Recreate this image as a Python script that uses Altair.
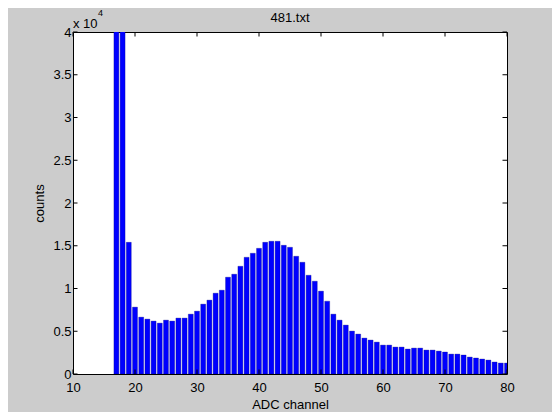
import altair as alt
import pandas as pd

# ---- data ----
channels = list(range(17, 81))
counts = [62000, 48000, 15400,
          7820, 6650, 6420, 6190, 5950, 6300, 6190, 6540, 6540, 7000, 7350, 8170, 8640, 9450, 9800,
          11320, 11670, 12600, 13650, 14120, 14700, 15400, 15520, 15520, 15050, 14820, 13770, 13070,
          11550, 10850, 9690,
          8520, 7000, 6300, 5720, 5020, 4670, 4200, 3970, 3730, 3380, 3380, 3150, 3150, 2920, 3030,
          3030, 2800, 2800, 2680, 2570, 2330, 2330, 2220, 1980, 1870, 1750, 1630, 1400, 1280, 1280]
x_ticks = [10, 20, 30, 40, 50, 60, 70, 80]
y_ticks = [0, 5000, 10000, 15000, 20000, 25000, 30000, 35000, 40000]
title_text = "481.txt"
x_label = "ADC channel"
y_label = "counts"
exp_base = "x 10"
exp_power = "4"

W, H = 434, 342
TL = 4.5
FONT = "Liberation Sans"

df = pd.DataFrame({"channel": channels, "counts": counts})
xt = pd.DataFrame({"channel": x_ticks})
yt = pd.DataFrame({"counts": y_ticks})

xscale = alt.Scale(domain=[x_ticks[0], x_ticks[-1]], nice=False, zero=False)
yscale = alt.Scale(domain=[y_ticks[0], y_ticks[-1]], nice=False)

xaxis = alt.Axis(values=x_ticks, title=x_label, tickSize=0, domain=False, grid=False,
                 labelFlush=False, labelOverlap=False,
                 labelPadding=7, labelFont=FONT, labelFontSize=13, labelColor="black",
                 titleFont=FONT, titleFontSize=13, titleFontWeight="normal",
                 titleColor="black", titleBaseline="alphabetic", titleY=34)
yaxis = alt.Axis(values=y_ticks, title=y_label, tickSize=0, domain=False, grid=False,
                 labelFlush=False, labelOverlap=False,
                 labelPadding=2, labelFont=FONT, labelFontSize=13, labelColor="black",
                 labelExpr="'' + (datum.value / 10000)",
                 titleFont=FONT, titleFontSize=13, titleFontWeight="normal",
                 titleColor="black", titleAngle=-90, titleBaseline="alphabetic",
                 titleX=-30, titleAlign="center")

bars = alt.Chart(df).transform_calculate(
    lo="datum.channel - 0.4", hi="datum.channel + 0.4"
).mark_bar(color="#0000ff", clip=True, stroke="#00007a", strokeWidth=0.3).encode(
    x=alt.X("lo:Q", scale=xscale, axis=xaxis, title=x_label),
    x2="hi:Q",
    y=alt.Y("counts:Q", scale=yscale, axis=yaxis, title=y_label),
    y2=alt.datum(0),
)

tick_style = dict(color="black", strokeWidth=1)
bx = alt.Chart(xt).mark_rule(**tick_style).encode(
    x=alt.X("channel:Q", scale=xscale, axis=xaxis, title=x_label), y=alt.value(H), y2=alt.value(H - TL))
tx = alt.Chart(xt).mark_rule(**tick_style).encode(
    x=alt.X("channel:Q", scale=xscale, axis=xaxis, title=x_label), y=alt.value(0), y2=alt.value(TL))
ly = alt.Chart(yt).mark_rule(**tick_style).encode(
    y=alt.Y("counts:Q", scale=yscale, axis=yaxis, title=y_label), x=alt.value(0), x2=alt.value(TL))
ry = alt.Chart(yt).mark_rule(**tick_style).encode(
    y=alt.Y("counts:Q", scale=yscale, axis=yaxis, title=y_label), x=alt.value(W), x2=alt.value(W - TL))

txt = dict(font=FONT, color="black", baseline="alphabetic")
title_mark = alt.Chart(pd.DataFrame({"t": [title_text]})).mark_text(
    fontSize=13, align="center", **txt
).encode(text="t:N", x=alt.value(W / 2), y=alt.value(-10))
base_txt = alt.Chart(pd.DataFrame({"t": [exp_base]})).mark_text(
    fontSize=13, align="left", **txt
).encode(text="t:N", x=alt.value(0), y=alt.value(-4.5))
pow_txt = alt.Chart(pd.DataFrame({"t": [exp_power]})).mark_text(
    fontSize=9, align="left", **txt
).encode(text="t:N", x=alt.value(25), y=alt.value(-16.5))

chart = alt.layer(bars, bx, tx, ly, ry, title_mark, base_txt, pow_txt).properties(
    width=W, height=H,
    autosize=alt.AutoSizeParams(type="none"),
    padding={"left": 65, "top": 24, "right": 45, "bottom": 38},
).configure(background="#cccccc").configure_view(
    fill="white", stroke="black", strokeWidth=1
)

chart.save("out.html", embed_options={"renderer": "svg", "actions": False})
